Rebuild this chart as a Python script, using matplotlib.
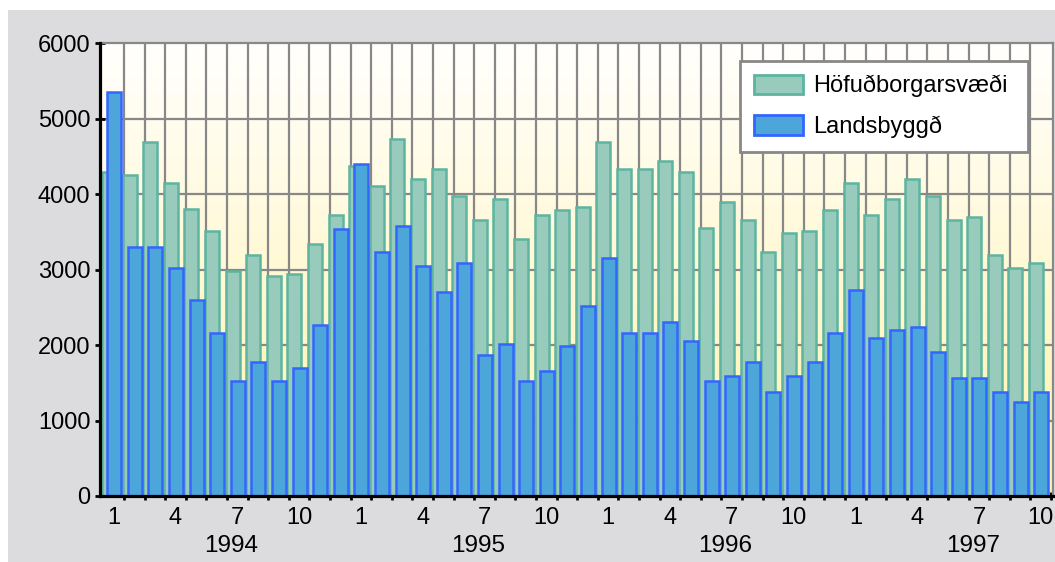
import numpy as np
import matplotlib
matplotlib.use("Agg")
import matplotlib.pyplot as plt
from matplotlib.patches import Rectangle

plt.rcParams['font.family'] = ['Liberation Sans', 'DejaVu Sans']

# ---- data (monthly, Jan 1994 - Oct 1997) ----
series_names = ["Höfuðborgarsvæði", "Landsbyggð"]
hofudborg = [4300, 4260, 4690, 4155, 3800, 3515, 2980, 3195, 2910, 2940, 3340, 3730,
             4370, 4115, 4725, 4195, 4330, 3980, 3660, 3940, 3400, 3730, 3795, 3835,
             4690, 4330, 4330, 4440, 4300, 3550, 3900, 3660, 3230, 3480, 3515, 3795,
             4155, 3730, 3940, 4195, 3980, 3660, 3695, 3195, 3020, 3090]
landsbyggd = [5360, 3300, 3300, 3020, 2600, 2165, 1520, 1770, 1525, 1700, 2270, 3545,
              4405, 3230, 3580, 3050, 2700, 3090, 1870, 2020, 1525, 1660, 1985, 2515,
              3155, 2165, 2165, 2300, 2060, 1525, 1595, 1770, 1380, 1595, 1770, 2165,
              2730, 2095, 2200, 2235, 1915, 1560, 1560, 1380, 1240, 1380]
years = ["1994", "1995", "1996", "1997"]
month_labels = ["1", "4", "7", "10"]
y_ticks = [0, 1000, 2000, 3000, 4000, 5000, 6000]

n = len(hofudborg)
x = np.arange(n)

W, H = 1055, 562
fig = plt.figure(figsize=(W / 100, H / 100), dpi=100)
fig.patch.set_facecolor('white')
fig.patches.append(Rectangle((8 / W, 0), 1, (H - 10) / H, transform=fig.transFigure,
                             facecolor='#dcdcde', edgecolor='none', zorder=-10))

ax = fig.add_axes([100 / W, 66 / H, 952.7 / W, 452.7 / H])
xlim = (-0.665, 45.58)
ylim = (0, 6000)

# background gradient (white top -> pale yellow bottom)
N = 256
t = np.linspace(0, 1, N)[:, None]
top = np.array([255, 255, 253]) / 255
bot = np.array([255, 243, 172]) / 255
grad = (top * (1 - t) + bot * t).reshape(N, 1, 3)
ax.imshow(grad, extent=[xlim[0], xlim[1], ylim[0], ylim[1]], aspect='auto',
          zorder=0, interpolation='bilinear')

# grid
ax.vlines(np.arange(0.5, n - 1, 1), ylim[0], ylim[1], color='#888888', lw=1.6, zorder=1)
ax.hlines(y_ticks[1:-1], xlim[0], xlim[1], color='#888888', lw=1.6, zorder=1)

bw = 0.68
ax.bar(x - 0.23, hofudborg, width=bw, color='#99cbbd', edgecolor='#5cb4a1',
       linewidth=1.8, zorder=2, label=series_names[0])
ax.bar(x + 0.02, landsbyggd, width=bw, color='#4da6d9', edgecolor='#3366ff',
       linewidth=1.8, zorder=3, label=series_names[1])

ax.set_xlim(*xlim)
ax.set_ylim(*ylim)

for s in ['left', 'bottom']:
    ax.spines[s].set_color('black')
    ax.spines[s].set_linewidth(2.3)
    ax.spines[s].set_zorder(5)
for s in ['top', 'right']:
    ax.spines[s].set_color('#888888')
    ax.spines[s].set_linewidth(1.6)

ax.set_yticks(y_ticks)
ax.set_yticklabels([str(v) for v in y_ticks])
ax.tick_params(axis='y', direction='inout', length=7, width=2, pad=3.5,
               labelsize=17, colors='black')

ax.set_xticks(np.arange(0.5, n, 1))
ax.tick_params(axis='x', which='major', direction='inout', length=6, width=2,
               labelbottom=False, color='black')
mpos = []
mlab = []
for k in range(len(years)):
    for j, m in enumerate(month_labels):
        p = 12 * k + 3 * j
        if p < n:
            mpos.append(p)
            mlab.append(m)
ax.set_xticks(mpos, minor=True)
ax.set_xticklabels(mlab, minor=True)
ax.tick_params(axis='x', which='minor', length=0, pad=8, labelsize=17)

for k, yr in enumerate(years):
    ax.text(12 * k + 5.7, -0.11, yr, transform=ax.get_xaxis_transform(),
            ha='center', va='center', fontsize=17.5)

leg = ax.legend(loc='upper left', bbox_to_anchor=(0.672, 0.76, 0.302, 0.201),
                mode='expand', borderaxespad=0, borderpad=0.58, handlelength=2.1,
                handleheight=0.88, handletextpad=0.4, labelspacing=0.76,
                fontsize=17, fancybox=False, framealpha=1, facecolor='white',
                edgecolor='#888888')
leg.get_frame().set_linewidth(2)
for h in leg.legend_handles:
    h.set_linewidth(2)
leg.set_zorder(10)

fig.savefig('out.png', dpi=100)
